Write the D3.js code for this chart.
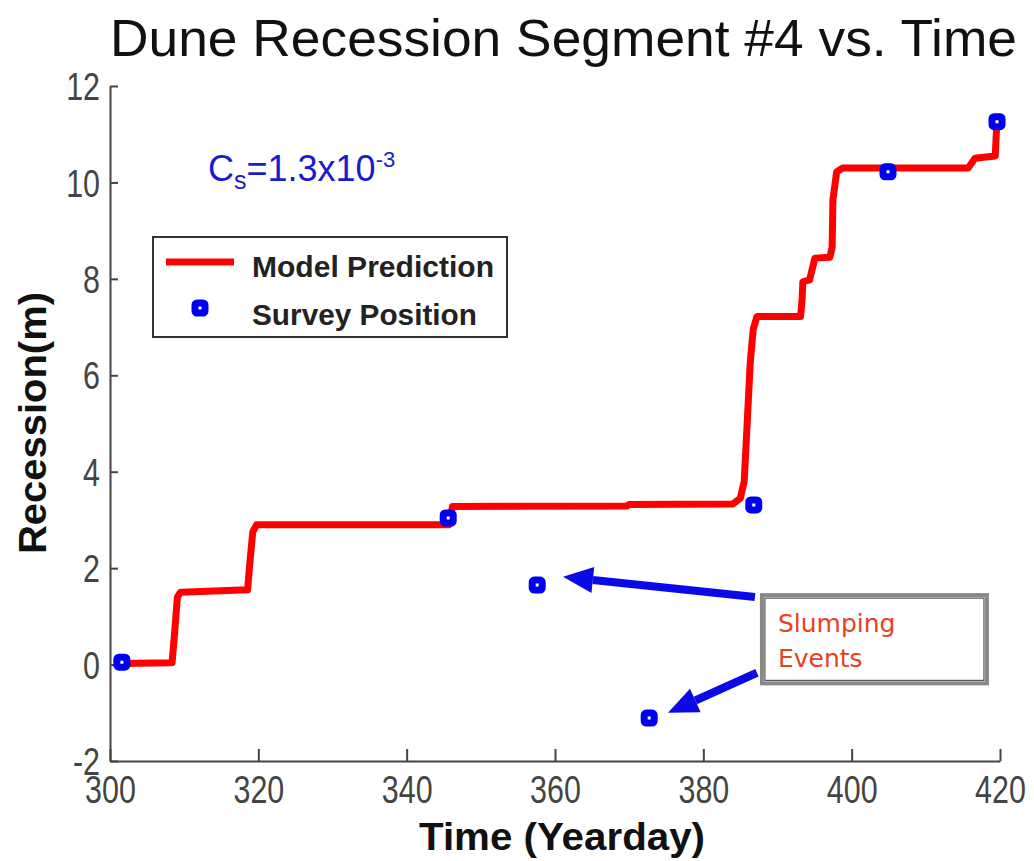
<!DOCTYPE html>
<html>
<head>
<meta charset="utf-8">
<script src="https://cdn.jsdelivr.net/npm/d3@7/dist/d3.min.js"></script>
<style>
  html, body { margin: 0; padding: 0; background: #fff; }
  svg { display: block; }
</style>
</head>
<body>
<svg id="chart" width="1034" height="861"></svg>
<script>
// ---- data ----
const xTicks = [300, 320, 340, 360, 380, 400, 420];
const yTicks = [-2, 0, 2, 4, 6, 8, 10, 12];

// model prediction (step-like curve)
const modelT = [301.6, 308.37, 308.68, 309.09, 309.49, 318.55, 318.85, 319.25, 319.76, 345.68, 346.18, 369.69, 370.0, 383.98, 384.99, 385.51, 385.91, 386.32, 386.72, 387.23, 393.11, 393.31, 393.42, 394.33, 395.04, 397.06, 397.37, 397.47, 397.98, 398.79, 415.71, 416.63, 419.36, 419.56];
const modelV = [0.02, 0.04, 0.6, 1.4, 1.5, 1.55, 2.1, 2.75, 2.9, 2.9, 3.28, 3.29, 3.32, 3.33, 3.45, 3.8, 5.0, 6.25, 6.95, 7.22, 7.22, 7.56, 7.94, 7.98, 8.43, 8.45, 8.66, 9.64, 10.22, 10.3, 10.3, 10.5, 10.55, 11.2];

// survey positions
const surveyT = [301.6, 345.6, 357.6, 372.7, 386.8, 404.9, 419.6];
const surveyV = [0.05, 3.04, 1.65, -1.11, 3.31, 10.22, 11.26];

// annotation arrows (data units): [tailT, tailV, tipT, tipV]
const arrows = [
  [386.96, 1.40, 361.08, 1.82],
  [387.23, -0.17, 375.23, -1.0]
];
const noteBox = [387.9, 1.44, 418.24, -0.39];
const noteLines = ["Slumping", "Events"];

// ---- drawing ----
const svg = d3.select("#chart");
const x = d3.scaleLinear().domain([300, 420]).range([110, 1000]);
const y = d3.scaleLinear().domain([-2, 12]).range([761, 86]);

const sans = "'Liberation Sans', Arial, sans-serif";

function squeeze(sel, f) {
  sel.each(function () {
    const w = this.getComputedTextLength();
    d3.select(this).attr("textLength", w * f).attr("lengthAdjust", "spacingAndGlyphs");
  });
}

// title
svg.append("text")
  .attr("x", 110).attr("y", 56)
  .attr("font-family", sans)
  .attr("font-size", 52)
  .attr("textLength", 907).attr("lengthAdjust", "spacingAndGlyphs")
  .attr("fill", "#111")
  .text("Dune Recession Segment #4 vs. Time");

// axes
const fmt = d => String(d);
const xAxis = d3.axisBottom(x).tickValues(xTicks).tickFormat(fmt).tickSizeInner(-12).tickSizeOuter(0).tickPadding(14);
const yAxis = d3.axisLeft(y).tickValues(yTicks).tickFormat(fmt).tickSizeInner(-8).tickSizeOuter(0).tickPadding(10);

const gx = svg.append("g").attr("transform", `translate(0,${y(-2)})`).call(xAxis);
const gy = svg.append("g").attr("transform", `translate(${x(300)},0)`).call(yAxis);

[gx, gy].forEach(g => {
  g.select(".domain").attr("stroke", "#444").attr("stroke-width", 2);
  g.selectAll(".tick line").attr("stroke", "#444").attr("stroke-width", 2);
  g.selectAll(".tick text")
    .attr("font-family", sans)
    .attr("font-size", 39)
    .attr("fill", "#444");
  squeeze(g.selectAll(".tick text"), 0.78);
});
gy.selectAll(".tick text").attr("dy", "0.35em");

// axis labels
svg.append("text")
  .attr("x", 562).attr("y", 850)
  .attr("text-anchor", "middle")
  .attr("font-family", sans)
  .attr("font-weight", "bold")
  .attr("font-size", 38)
  .attr("textLength", 286).attr("lengthAdjust", "spacingAndGlyphs")
  .attr("fill", "#111")
  .text("Time (Yearday)");

svg.append("text")
  .attr("transform", "translate(46,423) rotate(-90)")
  .attr("text-anchor", "middle")
  .attr("font-family", sans)
  .attr("font-weight", "bold")
  .attr("font-size", 38)
  .attr("textLength", 262).attr("lengthAdjust", "spacingAndGlyphs")
  .attr("fill", "#111")
  .text("Recession(m)");

// model line
const model = modelT.map((t, i) => ({ t, v: modelV[i] }));
svg.append("path")
  .datum(model)
  .attr("fill", "none")
  .attr("stroke", "#ff0000")
  .attr("stroke-width", 7)
  .attr("stroke-linejoin", "round")
  .attr("stroke-linecap", "round")
  .attr("d", d3.line().x(d => x(d.t)).y(d => y(d.v)));

// survey markers
const survey = surveyT.map((t, i) => ({ t, v: surveyV[i] }));
svg.append("g").selectAll("rect")
  .data(survey).join("rect")
  .attr("x", d => x(d.t) - 5).attr("y", d => y(d.v) - 5)
  .attr("width", 10).attr("height", 10)
  .attr("rx", 2)
  .attr("fill", "#fff")
  .attr("stroke", "#0000ee")
  .attr("stroke-width", 7);

// Cs annotation
const cs = svg.append("text")
  .attr("x", 208).attr("y", 181)
  .attr("font-family", sans)
  .attr("font-size", 36)
  .attr("fill", "#1a1ad0");
cs.append("tspan").text("C");
cs.append("tspan").attr("font-size", 25).attr("dy", 8).text("s");
cs.append("tspan").attr("dy", -8).text("=1.3x10");
cs.append("tspan").attr("font-size", 22).attr("dy", -14).text("-3");

// legend
const lg = svg.append("g");
lg.append("rect")
  .attr("x", 153).attr("y", 237).attr("width", 354).attr("height", 100)
  .attr("fill", "#fff").attr("stroke", "#333").attr("stroke-width", 2);
lg.append("line")
  .attr("x1", 166).attr("x2", 234).attr("y1", 262).attr("y2", 262)
  .attr("stroke", "#ff0000").attr("stroke-width", 7);
lg.append("rect")
  .attr("x", 195).attr("y", 303).attr("width", 10).attr("height", 10).attr("rx", 2)
  .attr("fill", "#fff").attr("stroke", "#0000ee").attr("stroke-width", 7);
lg.append("text")
  .attr("x", 252).attr("y", 277)
  .attr("font-family", sans)
  .attr("font-weight", "bold").attr("font-size", 30)
  .attr("textLength", 242).attr("lengthAdjust", "spacingAndGlyphs")
  .attr("fill", "#222")
  .text("Model Prediction");
lg.append("text")
  .attr("x", 252).attr("y", 325)
  .attr("font-family", sans)
  .attr("font-weight", "bold").attr("font-size", 30)
  .attr("textLength", 225).attr("lengthAdjust", "spacingAndGlyphs")
  .attr("fill", "#222")
  .text("Survey Position");

// slumping note box
const bx0 = x(noteBox[0]), by0 = y(noteBox[1]), bx1 = x(noteBox[2]), by1 = y(noteBox[3]);
svg.append("rect")
  .attr("x", bx0).attr("y", by0).attr("width", bx1 - bx0).attr("height", by1 - by0)
  .attr("fill", "#fff").attr("stroke", "#888").attr("stroke-width", 4);
svg.append("rect")
  .attr("x", bx0 + 3).attr("y", by0 + 3).attr("width", bx1 - bx0 - 6).attr("height", by1 - by0 - 6)
  .attr("fill", "none").attr("stroke", "#555").attr("stroke-width", 1.2);
svg.append("g").selectAll("text")
  .data(noteLines).join("text")
  .attr("x", bx0 + 16)
  .attr("y", (d, i) => by0 + 37 + i * 35)
  .attr("font-family", "'DejaVu Sans', Verdana, sans-serif")
  .attr("font-size", 25)
  .attr("fill", "#e8411e")
  .text(d => d);

// arrows
const ag = svg.append("g");
arrows.forEach(a => {
  const x1 = x(a[0]), y1 = y(a[1]), x2 = x(a[2]), y2 = y(a[3]);
  const ang = Math.atan2(y2 - y1, x2 - x1);
  const hl = 30, hw = 13;
  const bxh = x2 - hl * Math.cos(ang), byh = y2 - hl * Math.sin(ang);
  ag.append("line")
    .attr("x1", x1).attr("y1", y1).attr("x2", bxh).attr("y2", byh)
    .attr("stroke", "#0a0ae6").attr("stroke-width", 8);
  const px = -Math.sin(ang), py = Math.cos(ang);
  ag.append("path")
    .attr("d", `M${x2},${y2}L${bxh + px * hw},${byh + py * hw}L${bxh - px * hw},${byh - py * hw}Z`)
    .attr("fill", "#0a0ae6");
});
</script>
</body>
</html>
